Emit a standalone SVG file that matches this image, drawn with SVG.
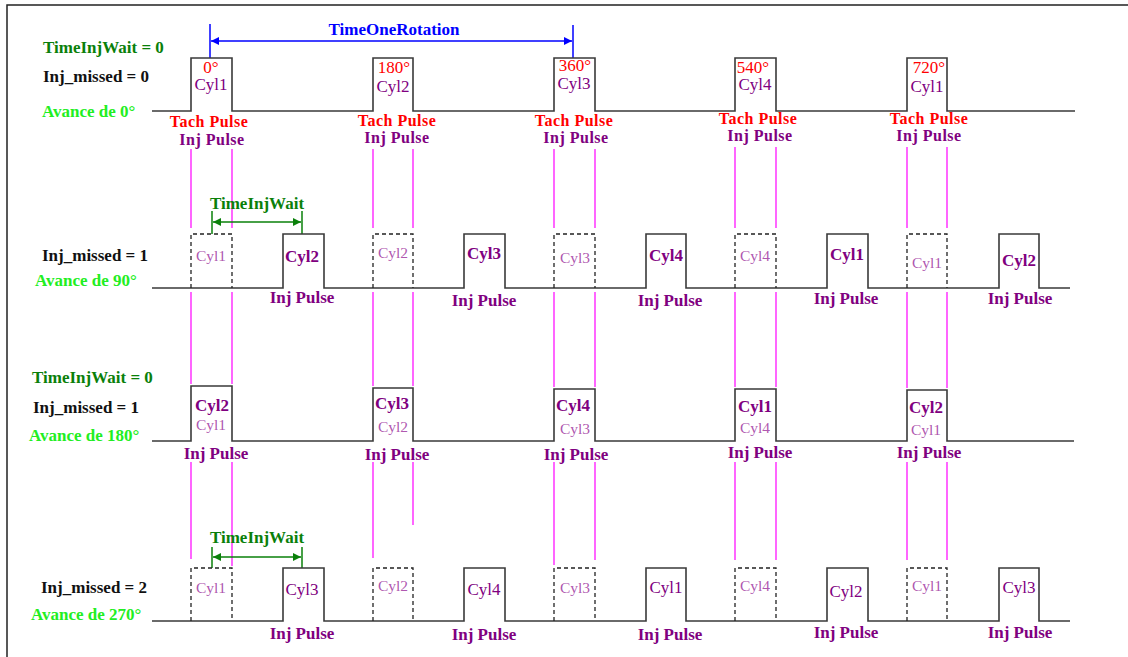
<svg xmlns="http://www.w3.org/2000/svg" width="1128" height="657" viewBox="0 0 1128 657">
<style>
text{font-family:"Liberation Serif","Times New Roman",serif;font-size:17px}
.b{font-weight:bold}
.m{text-anchor:middle}
.sm{font-size:16px;letter-spacing:0.5px}
.red{fill:#ff0000}
.pur{fill:#800080}
.fade{fill:#9a2a9a;fill-opacity:0.8;font-size:15.5px}
.dg{fill:#0a800a}
.lg{fill:#22ee22}
.blk{fill:#111}
.blue{fill:#0000ff}
.sig{fill:none;stroke:#3a3a3a;stroke-width:1.6}
.dash{fill:none;stroke:#222;stroke-width:1.3;stroke-dasharray:4 3}
.mag{stroke:#ff00ff;stroke-width:1.2}
.bl{stroke:#0000ff;stroke-width:1.5}
.gr{stroke:#0a800a;stroke-width:1.5}
</style>
<defs>
<marker id="ab" viewBox="0 0 10 10" refX="10" refY="5" markerWidth="9" markerHeight="8" markerUnits="userSpaceOnUse" orient="auto-start-reverse"><path d="M0,0 L10,5 L0,10 z" fill="#0000ff"/></marker>
<marker id="ag" viewBox="0 0 10 10" refX="10" refY="5" markerWidth="10" markerHeight="8" markerUnits="userSpaceOnUse" orient="auto-start-reverse"><path d="M0,0 L10,5 L0,10 z" fill="#0a800a"/></marker>
</defs>
<rect width="1128" height="657" fill="#ffffff"/>
<path d="M7,657 V5 H1128" fill="none" stroke="#222" stroke-width="1.5"/>

<g id="connectors">
<g class="mag">
<path d="M191,149 V228 M232,149 V228 M373,149 V228 M413,149 V228 M554,149 V228 M595,149 V228 M735,147 V228 M776,147 V228 M907,147 V228 M947,147 V228"/>
<path d="M191,292 V384 M232,292 V384 M373,292 V386 M413,292 V386 M554,292 V387 M595,292 V387 M735,292 V387 M776,292 V387 M907,292 V388 M947,292 V388"/>
<path d="M191,462 V559 M232,462 V566 M373,462 V558 M413,462 V525 M554,462 V565 M595,462 V560 M735,462 V560 M776,462 V560 M907,462 V560 M947,462 V560"/>
</g>
<g id="timeOneRotation">
<line class="bl" x1="210" y1="24" x2="210" y2="58"/>
<line class="bl" x1="573" y1="25" x2="573" y2="58"/>
<line class="bl" x1="211" y1="41" x2="572" y2="41" marker-start="url(#ab)" marker-end="url(#ab)"/>
<text class="b m blue" x="394" y="35">TimeOneRotation</text>
</g>
<g id="timeInjWait1">
<line class="gr" x1="212" y1="211" x2="212" y2="234"/>
<line class="gr" x1="302" y1="211" x2="302" y2="234"/>
<line class="gr" x1="213" y1="222" x2="301" y2="222" marker-start="url(#ag)" marker-end="url(#ag)"/>
<text class="b m dg" x="257" y="209">TimeInjWait</text>
</g>
<g id="timeInjWait2">
<line class="gr" x1="212" y1="547" x2="212" y2="568"/>
<line class="gr" x1="302" y1="547" x2="302" y2="568"/>
<line class="gr" x1="213" y1="557" x2="301" y2="557" marker-start="url(#ag)" marker-end="url(#ag)"/>
<text class="b m dg" x="257" y="543">TimeInjWait</text>
</g>
</g>

<g id="row1">
<text class="b dg" x="43" y="53">TimeInjWait = 0</text>
<text class="b blk" x="43" y="82">Inj_missed = 0</text>
<text class="b lg" x="42" y="117">Avance de 0°</text>
<path class="sig" d="M152,111 H191 V58 H232 V111 H373 V58 H413 V111 H554 V58 H595 V111 H735 V58 H776 V111 H907 V58 H947 V111 H1075"/>
<text class="m red" x="211" y="73">0°</text>
<text class="m pur" x="211" y="90">Cyl1</text>
<text class="m red" x="394" y="73">180°</text>
<text class="m pur" x="393" y="92">Cyl2</text>
<text class="m red" x="575" y="71">360°</text>
<text class="m pur" x="574" y="89">Cyl3</text>
<text class="m red" x="753" y="73">540°</text>
<text class="m pur" x="755" y="90">Cyl4</text>
<text class="m red" x="929" y="73">720°</text>
<text class="m pur" x="927" y="92">Cyl1</text>
<text class="b m sm red" x="209" y="127">Tach Pulse</text>
<text class="b m sm pur" x="212" y="145">Inj Pulse</text>
<text class="b m sm red" x="397" y="126">Tach Pulse</text>
<text class="b m sm pur" x="397" y="143">Inj Pulse</text>
<text class="b m sm red" x="574" y="126">Tach Pulse</text>
<text class="b m sm pur" x="576" y="143">Inj Pulse</text>
<text class="b m sm red" x="758" y="124">Tach Pulse</text>
<text class="b m sm pur" x="760" y="141">Inj Pulse</text>
<text class="b m sm red" x="929" y="124">Tach Pulse</text>
<text class="b m sm pur" x="929" y="141">Inj Pulse</text>
</g>

<g id="row2">
<text class="b blk" x="42" y="261">Inj_missed = 1</text>
<text class="b lg" x="35" y="286">Avance de 90°</text>
<path class="sig" d="M152,288 H283 V234 H324 V288 H464 V234 H505 V288 H646 V234 H686 V288 H827 V234 H868 V288 H999 V234 H1039 V288 H1070"/>
<path class="dash" d="M191,288 V234 H232 V288 M373,288 V234 H413 V288 M554,288 V234 H595 V288 M735,288 V234 H776 V288 M907,288 V234 H947 V288"/>
<text class="m fade" x="211" y="261">Cyl1</text>
<text class="m fade" x="393" y="258">Cyl2</text>
<text class="m fade" x="575" y="263">Cyl3</text>
<text class="m fade" x="755" y="261">Cyl4</text>
<text class="m fade" x="927" y="268">Cyl1</text>
<text class="b m pur" x="302" y="262">Cyl2</text>
<text class="b m pur" x="484" y="259">Cyl3</text>
<text class="b m pur" x="666" y="261">Cyl4</text>
<text class="b m pur" x="847" y="260">Cyl1</text>
<text class="b m pur" x="1019" y="266">Cyl2</text>
<text class="b m pur" x="302" y="303">Inj Pulse</text>
<text class="b m pur" x="484" y="306">Inj Pulse</text>
<text class="b m pur" x="670" y="306">Inj Pulse</text>
<text class="b m pur" x="846" y="304">Inj Pulse</text>
<text class="b m pur" x="1020" y="304">Inj Pulse</text>
</g>

<g id="row3">
<text class="b dg" x="32" y="383">TimeInjWait = 0</text>
<text class="b blk" x="33" y="413">Inj_missed = 1</text>
<text class="b lg" x="29" y="441">Avance de 180°</text>
<path class="sig" d="M152,441 H191 V386 H232 V441 H373 V388 H413 V441 H554 V389 H595 V441 H735 V389 H776 V441 H907 V390 H947 V441 H1074"/>
<text class="b m pur" x="212" y="411">Cyl2</text>
<text class="m fade" x="211" y="430">Cyl1</text>
<text class="b m pur" x="392" y="409">Cyl3</text>
<text class="m fade" x="393" y="432">Cyl2</text>
<text class="b m pur" x="573" y="411">Cyl4</text>
<text class="m fade" x="575" y="434">Cyl3</text>
<text class="b m pur" x="755" y="412">Cyl1</text>
<text class="m fade" x="755" y="433">Cyl4</text>
<text class="b m pur" x="926" y="413">Cyl2</text>
<text class="m fade" x="926" y="435">Cyl1</text>
<text class="b m pur" x="216" y="459">Inj Pulse</text>
<text class="b m pur" x="397" y="460">Inj Pulse</text>
<text class="b m pur" x="576" y="460">Inj Pulse</text>
<text class="b m pur" x="760" y="458">Inj Pulse</text>
<text class="b m pur" x="929" y="458">Inj Pulse</text>
</g>

<g id="row4">
<text class="b blk" x="41" y="593">Inj_missed = 2</text>
<text class="b lg" x="31" y="620">Avance de 270°</text>
<path class="sig" d="M152,621 H283 V568 H324 V621 H464 V568 H505 V621 H646 V568 H686 V621 H827 V568 H868 V621 H999 V568 H1039 V621 H1070"/>
<path class="dash" d="M191,621 V568 H232 V621 M373,621 V568 H413 V621 M554,621 V568 H595 V621 M735,621 V568 H776 V621 M907,621 V568 H947 V621"/>
<text class="m fade" x="211" y="593">Cyl1</text>
<text class="m fade" x="393" y="591">Cyl2</text>
<text class="m fade" x="575" y="593">Cyl3</text>
<text class="m fade" x="755" y="591">Cyl4</text>
<text class="m fade" x="927" y="591">Cyl1</text>
<text class="m pur" x="302" y="595">Cyl3</text>
<text class="m pur" x="484" y="595">Cyl4</text>
<text class="m pur" x="666" y="593">Cyl1</text>
<text class="m pur" x="846" y="597">Cyl2</text>
<text class="m pur" x="1019" y="593">Cyl3</text>
<text class="b m pur" x="302" y="639">Inj Pulse</text>
<text class="b m pur" x="484" y="640">Inj Pulse</text>
<text class="b m pur" x="670" y="640">Inj Pulse</text>
<text class="b m pur" x="846" y="638">Inj Pulse</text>
<text class="b m pur" x="1020" y="638">Inj Pulse</text>
</g>
</svg>
